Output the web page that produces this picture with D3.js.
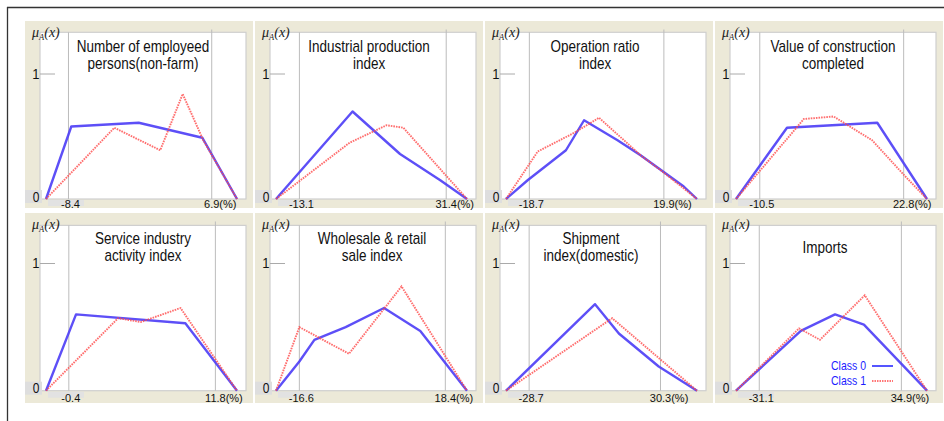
<!DOCTYPE html>
<html>
<head>
<meta charset="utf-8">
<script src="https://cdn.jsdelivr.net/npm/d3@7"></script>
<style>
  body { margin: 0; background: #fff; }
  text { font-family: "Liberation Sans", Arial, sans-serif; fill: #111; }
</style>
</head>
<body>
<svg id="chart" width="944" height="421"></svg>
<script>
// panel titles, row by row
const titles = [
    ["Number of employeed", "persons(non-farm)"],
    ["Industrial production", "index"],
    ["Operation ratio", "index"],
    ["Value of construction", "completed"],
    ["Service industry", "activity index"],
    ["Wholesale & retail", "sale index"],
    ["Shipment", "index(domestic)"],
    ["Imports"]
];

// labelled values under the two grey guide lines (%)
const lowTicks = [-8.4, -13.1, -18.7, -10.5, -0.4, -16.6, -28.7, -31.1];
const highTicks = [6.9, 31.4, 19.9, 22.8, 11.8, 18.4, 30.3, 34.9];

// x range covered by the membership functions (%)
const xMin = [-10.8, -20.2, -25.4, -16.0, -2.3, -22.2, -39.1, -41.9];
const xMax = [9.6, 37.7, 29.4, 28.2, 13.6, 23.6, 46.7, 46.8];

// membership function of class 0, [x, mu]
const class0 = [
    [[-10.8, 0], [-8.1, 0.58], [-0.9, 0.61], [5.9, 0.49], [9.6, 0]],
    [[-20.2, 0], [3.0, 0.70], [17.4, 0.36], [29.6, 0.15], [37.7, 0]],
    [[-25.4, 0], [-19.2, 0.15], [-8.2, 0.39], [-3.0, 0.63], [6.6, 0.47], [13.2, 0.35], [25.6, 0.10], [29.4, 0]],
    [[-16.0, 0], [-4.2, 0.57], [16.7, 0.61], [28.2, 0]],
    [[-2.3, 0], [0.2, 0.60], [9.3, 0.53], [13.6, 0]],
    [[-22.2, 0], [-16.6, 0.23], [-13.0, 0.40], [-5.5, 0.50], [3.7, 0.65], [12.4, 0.47], [23.6, 0]],
    [[-39.1, 0], [0.9, 0.68], [11.6, 0.45], [29.5, 0.19], [46.7, 0]],
    [[-41.9, 0], [-11.8, 0.47], [4.1, 0.60], [17.5, 0.52], [46.8, 0]]
];

// membership function of class 1, [x, mu]
const class1 = [
    [[-10.8, 0], [-3.5, 0.57], [1.4, 0.39], [3.8, 0.84], [6.0, 0.47], [9.6, 0]],
    [[-20.2, 0], [2.1, 0.45], [13.3, 0.59], [18.4, 0.57], [37.7, 0]],
    [[-25.4, 0], [-16.3, 0.38], [-5.8, 0.53], [1.3, 0.65], [13.2, 0.35], [19.0, 0.23], [29.4, 0]],
    [[-16.0, 0], [-0.3, 0.64], [6.6, 0.66], [15.5, 0.47], [23.2, 0.18], [28.2, 0]],
    [[-2.3, 0], [3.7, 0.57], [5.6, 0.54], [8.9, 0.65], [13.6, 0]],
    [[-22.2, 0], [-16.6, 0.50], [-4.7, 0.29], [7.9, 0.82], [23.6, 0]],
    [[-39.1, 0], [8.6, 0.57], [46.7, 0]],
    [[-41.9, 0], [-12.6, 0.49], [-2.9, 0.40], [17.9, 0.75], [46.8, 0]]
];

const legendLabels = ["Class 0", "Class 1"];

// layout
const svg = d3.select("#chart");
const panelW = 228, panelStep = 230, panelLeft = 25;
const rows = [
    {top: 21, h: 187, white: 11.3, one: 53, base: 178, tickY: 186.5},
    {top: 213, h: 190, white: 12.4, one: 50.5, base: 177.7, tickY: 188.5}
];
const titleCx = [118, 114, 110, 118, 118, 117, 106, 110];
const blue = "#4b3cf6", red = "#ff4a4a", beige = "#ece9d8";

// outer frame
svg.append("line").attr("x1", 7).attr("x2", 944).attr("y1", 7.5).attr("y2", 7.5)
    .attr("stroke", "#333").attr("stroke-width", 1.3);
svg.append("line").attr("x1", 7.5).attr("x2", 7.5).attr("y1", 7).attr("y2", 421)
    .attr("stroke", "#333").attr("stroke-width", 1.3);

// text that looks a bit taller than wide, like the scanned figure
function stretched(g, x, y, str, size, anchor) {
    return g.append("text")
        .attr("transform", `translate(${x},${y}) scale(1,1.18)`)
        .attr("text-anchor", anchor || "start")
        .style("font-size", size + "px")
        .text(str);
}

titles.forEach((title, i) => {
    let row = rows[Math.floor(i / 4)];
    let g = svg.append("g")
        .attr("transform", `translate(${panelLeft + (i % 4) * panelStep},${row.top})`);

    let x = d3.scaleLinear().domain([xMin[i], xMax[i]]).range([21, 212]);
    let y = d3.scaleLinear().domain([0, 1]).range([row.base, row.one]);

    g.append("rect").attr("width", panelW).attr("height", row.h).attr("fill", beige);

    // white plotting area
    g.append("rect")
        .attr("x", 15).attr("y", row.white)
        .attr("width", panelW - 22).attr("height", row.base - row.white)
        .attr("fill", "#fff").attr("stroke", "#cfcfcf").attr("stroke-width", 1.2);

    // grey label boxes
    g.append("rect").attr("x", 0).attr("y", row.base - 9).attr("width", 17).attr("height", 13)
        .attr("fill", "#dedede");
    g.append("rect").attr("x", 23).attr("y", row.base + 1).attr("width", 36).attr("height", 6)
        .attr("fill", "#e2e2e2");

    // guide lines
    g.append("line")
        .attr("x1", x(lowTicks[i])).attr("x2", x(lowTicks[i]))
        .attr("y1", row.white).attr("y2", row.base)
        .attr("stroke", "#bcbcbc").attr("stroke-width", 1);
    g.append("line")
        .attr("x1", x(highTicks[i])).attr("x2", x(highTicks[i]))
        .attr("y1", 8.5).attr("y2", row.base)
        .attr("stroke", "#bcbcbc").attr("stroke-width", 1);

    // y axis marks
    g.append("line").attr("x1", 15).attr("x2", 30).attr("y1", y(1)).attr("y2", y(1))
        .attr("stroke", "#aaa").attr("stroke-width", 1);
    stretched(g, 14.5, y(1) + 4.5, "1", 13, "end");
    stretched(g, 14.5, y(0) + 2.5, "0", 12, "end");

    // mu_A(x)
    let mu = g.append("text").attr("x", 7).attr("y", 16)
        .style("font-family", "'Liberation Serif', 'DejaVu Serif', serif")
        .style("font-style", "italic").style("font-size", "14px").style("fill", "#222");
    mu.append("tspan").text("\u03bc");
    mu.append("tspan").attr("dy", 3).style("font-size", "8.5px").text("A");
    mu.append("tspan").attr("dy", -3).text("(x)");

    // title
    let lines = title.length === 1 ? [39.5] : [30.5, 47.5];
    title.forEach((t, k) => stretched(g, titleCx[i], lines[k], t, 13.5, "middle"));

    // tick labels
    g.append("text").attr("x", x(lowTicks[i]) + 2).attr("y", row.tickY)
        .attr("text-anchor", "middle").style("font-size", "11px")
        .text(lowTicks[i].toFixed(1));
    let hi = g.append("text").attr("x", x(highTicks[i])).attr("y", row.tickY)
        .attr("text-anchor", "middle").style("font-size", "11px")
        .text(highTicks[i].toFixed(1));
    let w = hi.node().getComputedTextLength();
    g.append("text").attr("x", x(highTicks[i]) + w / 2).attr("y", row.tickY)
        .style("font-size", "11px").text("(%)");

    let line = d3.line().x(d => x(d[0])).y(d => y(d[1]));

    g.append("path").datum(class0[i]).attr("d", line)
        .attr("fill", "none").attr("stroke", blue).attr("stroke-width", 2.4)
        .attr("stroke-linejoin", "round").attr("opacity", 0.9);
    g.append("path").datum(class1[i]).attr("d", line)
        .attr("fill", "none").attr("stroke", red).attr("stroke-width", 1.9)
        .attr("stroke-dasharray", "1.6,1").attr("opacity", 0.8);

    // legend sits in the last panel
    if (i === titles.length - 1) {
        legendLabels.forEach((lab, k) => {
            let ly = 157 + k * 15;
            stretched(g, 116, ly, lab, 10.5).style("fill", "#1c1cff");
            g.append("line").attr("x1", 157).attr("x2", 178)
                .attr("y1", ly - 4).attr("y2", ly - 4)
                .attr("stroke", k === 0 ? "#1c1cff" : red)
                .attr("stroke-width", k === 0 ? 1.5 : 1.3)
                .attr("stroke-dasharray", k === 0 ? null : "1.5,1");
        });
    }
});
</script>
</body>
</html>
